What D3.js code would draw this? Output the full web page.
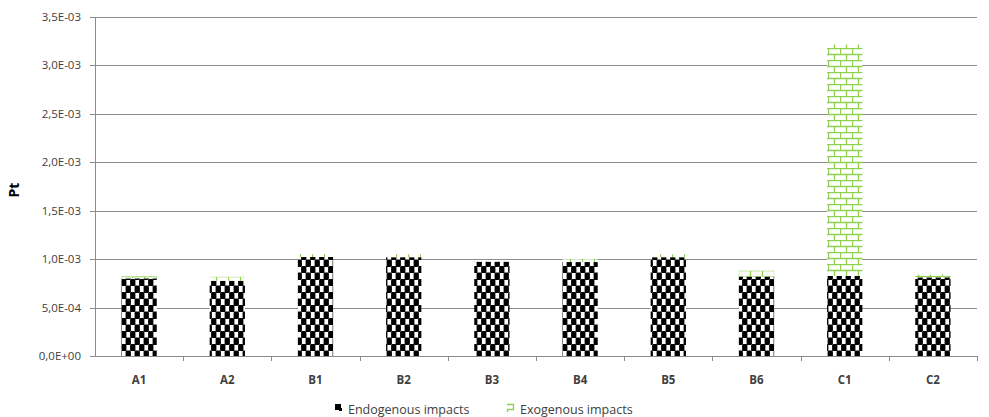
<!DOCTYPE html>
<html><head><meta charset="utf-8">
<script src="https://cdn.jsdelivr.net/npm/d3@7"></script>
<style>body{margin:0;background:#fff}svg{display:block}</style>
</head><body>
<svg id="c" width="989" height="417"></svg>
<script>
const categories = ["A1","A2","B1","B2","B3","B4","B5","B6","C1","C2"];
const endogenous = [0.802e-3,0.777e-3,1.022e-3,1.020e-3,0.973e-3,0.970e-3,1.020e-3,0.820e-3,0.826e-3,0.812e-3];
const exogenous  = [0.020e-3,0.040e-3,0.030e-3,0.030e-3,0.005e-3,0.030e-3,0.030e-3,0.060e-3,2.390e-3,0.030e-3];
const yTicks = [0,0.5e-3,1.0e-3,1.5e-3,2.0e-3,2.5e-3,3.0e-3,3.5e-3];
const seriesNames = ["Endogenous impacts","Exogenous impacts"];

const svg = d3.select("#c");
const m = {l:95,r:977,t:17,b:356};
const x = d3.scaleBand().domain(categories).range([m.l,m.r]).paddingInner(0.6).paddingOuter(0.3);
const xb = d3.scaleBand().domain(categories).range([m.l,m.r]);
const y = d3.scaleLinear().domain([0,3.5e-3]).range([m.b,m.t]);
const grey = "#8c8c8c";
const font = "'Open Sans', 'Liberation Sans', sans-serif";

const defs = svg.append("defs");
const p1 = defs.append("pattern").attr("id","checker").attr("patternUnits","userSpaceOnUse")
  .attr("width",9).attr("height",13).attr("x",0).attr("y",0);
p1.append("rect").attr("width",9).attr("height",13).attr("fill","#fff");
[[0,0],[4.5,6.5],[-4.5,6.5],[9,0],[0,13],[9,13]].forEach(([a,b])=>{
  p1.append("rect").attr("x",a-0.4).attr("y",b-0.4).attr("width",5.3).attr("height",7.3).attr("rx",1.3).attr("fill","#000");
});

const green = "#8fd14f";
const p2 = defs.append("pattern").attr("id","brick").attr("patternUnits","userSpaceOnUse")
  .attr("width",12).attr("height",12);
p2.append("rect").attr("width",12).attr("height",12).attr("fill","#fff");
p2.append("path").attr("d","M0,0.5H12M0,6.5H12M0.5,0V6.5M6.5,6.5V12")
  .attr("stroke",green).attr("stroke-width",1.3).attr("fill","none");

// gridlines
svg.append("g").selectAll("line").data(yTicks).join("line")
  .attr("x1",m.l-5).attr("x2",m.r).attr("y1",d=>Math.round(y(d))+0.5).attr("y2",d=>Math.round(y(d))+0.5)
  .attr("stroke",grey).attr("stroke-width",1);

// y axis line
svg.append("line").attr("x1",m.l+0.5).attr("x2",m.l+0.5).attr("y1",m.t).attr("y2",m.b+0.5)
  .attr("stroke",grey);

// x ticks
svg.append("g").selectAll("line").data(categories.map((c,i)=>i)).join("line")
  .attr("x1",i=>Math.round(xb(categories[i])+xb.bandwidth())+0.5)
  .attr("x2",i=>Math.round(xb(categories[i])+xb.bandwidth())+0.5)
  .attr("y1",m.b).attr("y2",m.b+5).attr("stroke",grey);

// y tick labels
const fmt = v => { if (v===0) return "0,0E+00"; const e=Math.floor(Math.log10(v)); const mant=v/Math.pow(10,e); return mant.toFixed(1).replace(".",",")+"E-"+String(-e).padStart(2,"0"); };
svg.append("g").selectAll("text").data(yTicks).join("text")
  .attr("x",81).attr("y",d=>y(d)+4).attr("text-anchor","end")
  .attr("font-family",font).attr("font-size",11.5).attr("fill","#404040").text(fmt);

// bars
const stack = categories.map((c,i)=>({c, e:endogenous[i], x:exogenous[i]}));
svg.append("g").selectAll("rect").data(stack).join("rect")
  .attr("x",d=>x(d.c)).attr("width",x.bandwidth())
  .attr("y",d=>y(d.e)).attr("height",d=>y(0)-y(d.e)).attr("fill","url(#checker)");
svg.append("g").selectAll("rect").data(stack).join("rect")
  .attr("x",d=>x(d.c)).attr("width",x.bandwidth())
  .attr("y",d=>y(d.e+d.x)).attr("height",d=>y(d.e)-y(d.e+d.x)).attr("fill","url(#brick)");

// x labels
svg.append("g").selectAll("text").data(categories).join("text")
  .attr("x",d=>xb(d)+xb.bandwidth()/2).attr("y",384).attr("text-anchor","middle")
  .attr("font-family",font).attr("font-size",11.5).attr("font-weight","bold").attr("fill","#404040").text(d=>d);

// y title
svg.append("text").attr("transform","translate(19,190) rotate(-90)").attr("text-anchor","middle")
  .attr("font-family",font).attr("font-size",14).attr("font-weight","bold").attr("fill","#000").text("Pt");

// legend
const leg = svg.append("g");
const items = [{n:seriesNames[0],x:335},{n:seriesNames[1],x:507}];
leg.append("rect").attr("x",items[0].x).attr("y",404).attr("width",6).attr("height",6).attr("fill","#000");
leg.append("rect").attr("x",items[0].x+4).attr("y",408).attr("width",3).attr("height",3).attr("fill","#000");
leg.append("path").attr("d",`M${items[1].x},404.5H${items[1].x+7}M${items[1].x},409.5H${items[1].x+7}M${items[1].x+6.5},404.5V409.5M${items[1].x+0.5},409.5V412`)
  .attr("stroke",green).attr("stroke-width",1.3).attr("fill","none");
items.forEach(it=>{
  leg.append("text").attr("x",it.x+13).attr("y",414).attr("font-family",font).attr("font-size",12.5)
    .attr("fill","#404040").text(it.n);
});
</script>
</body></html>
